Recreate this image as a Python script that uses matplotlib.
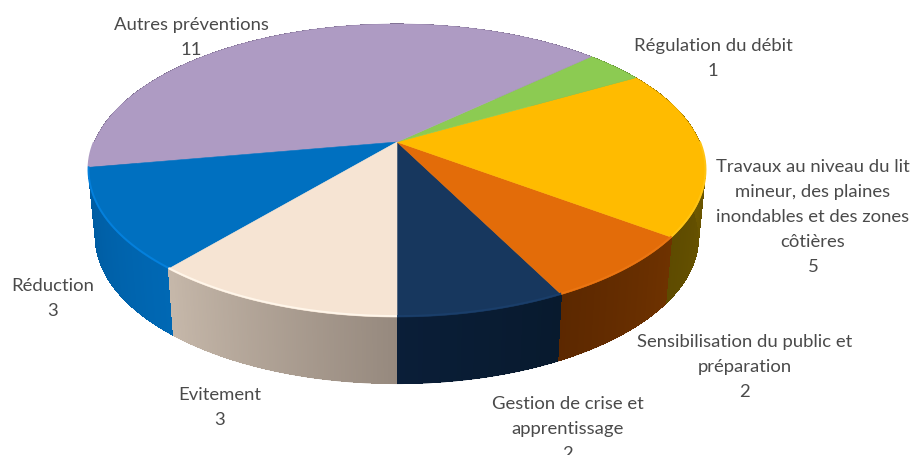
import numpy as np
import matplotlib
matplotlib.use("Agg")
import matplotlib.pyplot as plt
from matplotlib.colors import to_rgb

categories = ["Gestion de crise et\napprentissage", "Sensibilisation du public et\npréparation",
              "Travaux au niveau du lit\nmineur, des plaines\ninondables et des zones\ncôtières",
              "Régulation du débit", "Autres préventions", "Réduction", "Evitement"]
values = [2, 2, 5, 1, 11, 3, 3]
top_colors = ["#17375E", "#E36C09", "#FFBB00", "#8CCB52", "#AE9BC3", "#0070C0", "#F6E4D3"]
side_left = ["#0A1E38", "#5C2800", "#5E4B00", "#5A8030", "#6E6080", "#005A9E", "#C6B8AA"]
side_right = ["#081A2E", "#6E3200", "#7A6200", "#5A8030", "#6E6080", "#0068B4", "#96897E"]
rim_colors = ["#1A3E6A", "#EA7512", "#FFC414", "#8CCB52", "#AE9BC3", "#0480DC", "#FFF6EA"]
label_xy = [(568, 409), (745, 347), (813, 172), (713, 51), (191, 30), (53, 291), (220, 400)]

W, H = 917, 455
CX, CY, B, A, P = 397.0, 142.0, 302.6, 141.0, 0.1945
DEPTH, SHRINK = 67.0, 0.978
LINE = 25.0

fig = plt.figure(figsize=(W / 100, H / 100), dpi=100, facecolor="white")
ax = fig.add_axes([0, 0, 1, 1])
ax.set_xlim(0, W)
ax.set_ylim(H, 0)
ax.axis("off")


def top(th):
    # th is measured from the front of the pie, going anticlockwise on screen
    u, v = np.sin(th), np.cos(th)
    d = 1 - P * v
    return CX + B * u / d, CY + A * v / d


def bottom(th):
    x, y = top(th)
    return CX + (x - CX) * SHRINK, y + DEPTH


bounds = np.concatenate([[0], np.cumsum(values)]) / np.sum(values) * 2 * np.pi

# sides: a solid silhouette for each slice, then non-antialiased gradient strips
order = sorted(range(len(values)), key=lambda i: np.cos((bounds[i] + bounds[i + 1]) / 2))
for i in order:
    ths = np.linspace(bounds[i], bounds[i + 1], 120)
    xt, yt = top(ths)
    xb, yb = bottom(ths)
    cl, cr = np.array(to_rgb(side_left[i])), np.array(to_rgb(side_right[i]))
    ax.fill(np.r_[xt, xb[::-1]], np.r_[yt, yb[::-1]], color=(cl + cr) / 2, lw=0, zorder=2)
    for j in range(len(ths) - 1):
        f = (j + 0.5) / (len(ths) - 1)
        ax.fill([xt[j], xt[j + 1], xb[j + 1], xb[j]],
                [yt[j], yt[j + 1], yb[j + 1] - 0.5, yb[j] - 0.5],
                color=cl + (cr - cl) * f, lw=0, antialiased=False, zorder=2)

# top surface
for i in range(len(values)):
    ths = np.linspace(bounds[i], bounds[i + 1], 200)
    x, y = top(ths)
    ax.fill(np.r_[CX, x], np.r_[CY, y], color=top_colors[i], lw=0.4, zorder=3)
    vis = np.cos(ths) > 0.0
    ax.plot(np.where(vis, x, np.nan), np.where(vis, y, np.nan) - 1.0, color=rim_colors[i],
            lw=1.4, zorder=4, solid_capstyle="butt")

# labels
for name, val, (x, y) in zip(categories, values, label_xy):
    lines = name.split("\n") + [str(val)]
    for k, t in enumerate(lines):
        ax.text(x, y + k * LINE, t, ha="center", va="baseline", family="Lato",
                fontsize=13.3, color="#4A4A4A", zorder=5, clip_on=False)

fig.savefig("out.png", dpi=100, facecolor="white")
